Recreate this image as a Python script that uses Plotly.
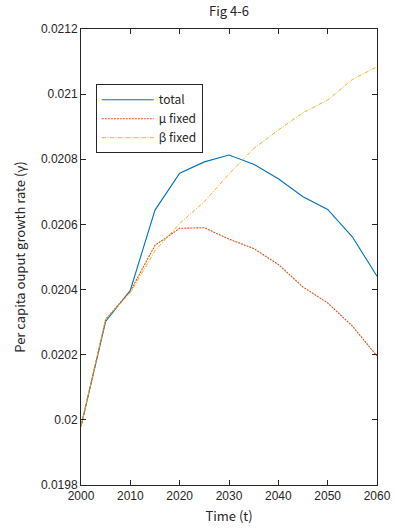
import plotly.graph_objects as go

years = [2000, 2005, 2010, 2015, 2020, 2025, 2030, 2035, 2040, 2045, 2050, 2055, 2060]
total = [0.019980, 0.020302, 0.020398, 0.020644, 0.020757, 0.020792, 0.020813, 0.020785,
         0.020740, 0.020685, 0.020646, 0.020562, 0.020441]
mu_fixed = [0.019980, 0.020309, 0.020395, 0.020536, 0.020588, 0.020590, 0.020555, 0.020526,
            0.020477, 0.020408, 0.020359, 0.020288, 0.020196]
beta_fixed = [0.019980, 0.020310, 0.020390, 0.020519, 0.020603, 0.020670, 0.020755, 0.020833,
              0.020890, 0.020943, 0.020982, 0.021045, 0.021084]

y_tickvals = [0.0198, 0.0200, 0.0202, 0.0204, 0.0206, 0.0208, 0.0210, 0.0212]
y_ticktext = ["0.0198", "0.02", "0.0202", "0.0204", "0.0206", "0.0208", "0.021", "0.0212"]
x_tickvals = [2000, 2010, 2020, 2030, 2040, 2050, 2060]

title_font = "Noto Sans CJK JP"
tick_font = "Liberation Sans"

fig = go.Figure()
fig.add_trace(go.Scatter(x=years, y=total, mode="lines", name="total",
                         line=dict(color="#0072BD", width=1.1)))
fig.add_trace(go.Scatter(x=years, y=mu_fixed, mode="lines", name="μ fixed",
                         line=dict(color="#D95319", width=1.1, dash="2px,1px")))
fig.add_trace(go.Scatter(x=years, y=beta_fixed, mode="lines", name="β fixed",
                         line=dict(color="#EDB120", width=1.0, dash="4px,1.5px,1px,1.5px")))

axis_common = dict(
    showgrid=False, zeroline=False, showline=True, mirror="ticks",
    linecolor="#262626", linewidth=1, ticks="inside", ticklen=5,
    tickcolor="#262626", tickfont=dict(family=tick_font, size=12, color="#262626"),
    automargin=False,
)

fig.update_layout(
    width=396, height=531,
    margin=dict(l=81, r=19, t=29, b=46),
    paper_bgcolor="white", plot_bgcolor="white",
    title=dict(text="Fig 4-6", x=0.5, xanchor="center", xref="paper",
               y=1, yref="container", yanchor="top", pad=dict(t=7),
               font=dict(family=title_font, size=13, color="#262626")),
    xaxis=dict(range=[2000, 2060], tickvals=x_tickvals,
               title=dict(text="Time (t)", font=dict(family=title_font, size=13, color="#262626"),
                          standoff=9),
               **axis_common),
    yaxis=dict(range=[0.0198, 0.0212], tickvals=y_tickvals, ticktext=y_ticktext,
               title=dict(text="Per capita ouput growth rate (γ)",
                          font=dict(family=title_font, size=13, color="#262626"), standoff=12),
               **axis_common),
    legend=dict(x=0.05, y=0.879, xanchor="left", yanchor="top",
                bgcolor="white", bordercolor="#262626", borderwidth=1,
                font=dict(family=title_font, size=12, color="#262626"),
                tracegroupgap=0, itemwidth=52),
    showlegend=True,
)

fig.write_html("out.html")
